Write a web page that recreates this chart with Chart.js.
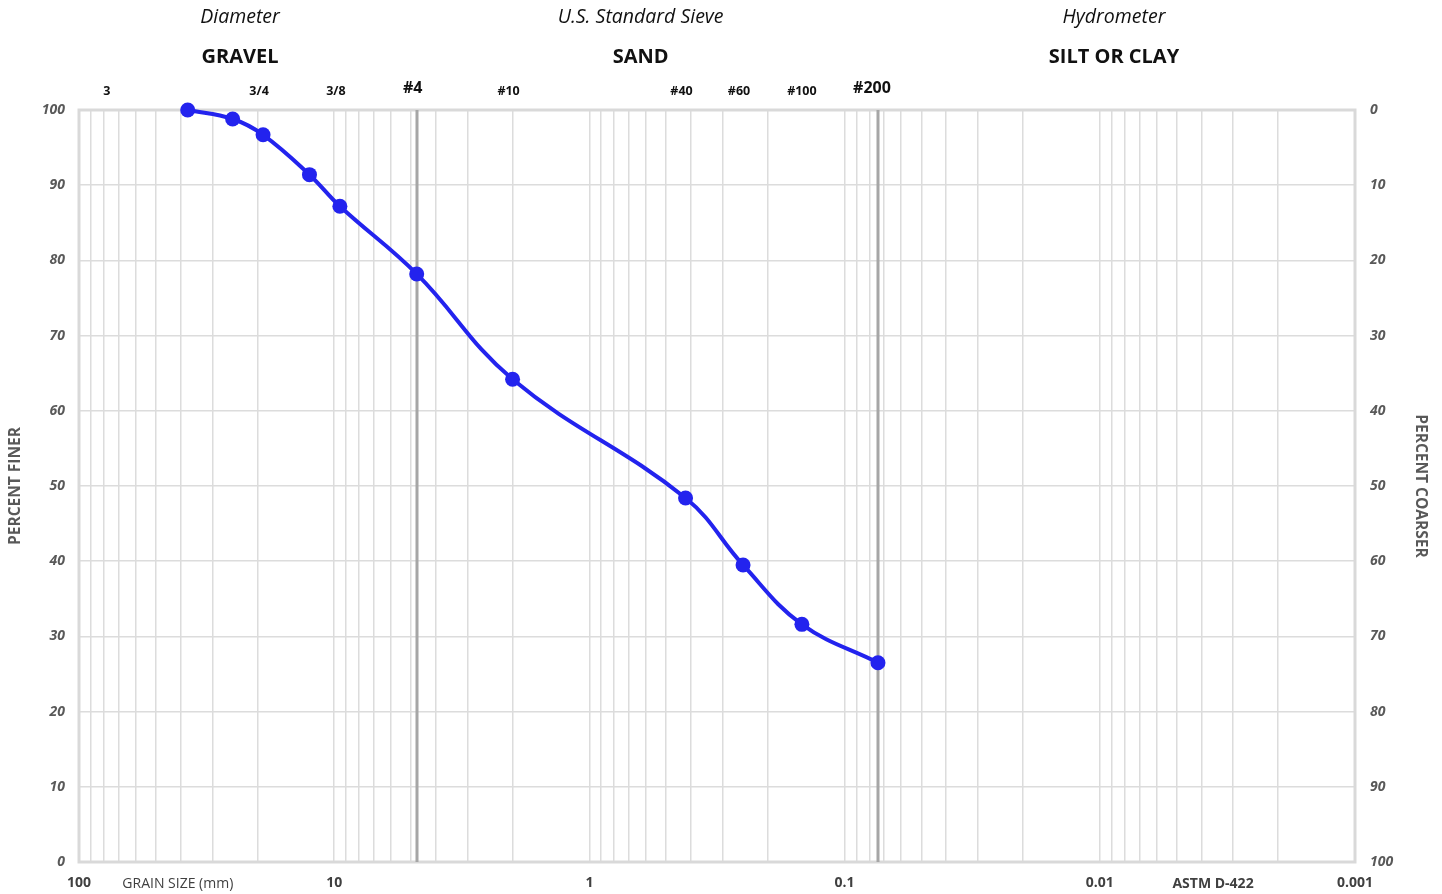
<!DOCTYPE html>
<html>
<head>
<meta charset="utf-8">
<script src="https://cdn.jsdelivr.net/npm/chart.js@4.4.0/dist/chart.umd.min.js"></script>
<style>
  html, body { margin: 0; padding: 0; background: #fff; }
  #wrap { width: 1442px; height: 894px; }
</style>
</head>
<body>
<div id="wrap"><canvas id="chartGrain"></canvas></div>
<script>
// sieve analysis (mm / % passing)
const sieveSizes = [37.5, 25, 19, 12.5, 9.5, 4.75, 2.0, 0.42, 0.25, 0.147, 0.074];
const percentFiner = [100, 98.8, 96.7, 91.4, 87.2, 78.2, 64.2, 48.4, 39.5, 31.6, 26.5];

// labels along the top
const sieveLabels = ['3', '3/4', '3/8', '#4', '#10', '#40', '#60', '#100', '#200'];
const sieveLabelSizes = [75, 19, 9.5, 4.75, 2.0, 0.42, 0.25, 0.147, 0.074];
const bigSieves = ['#4', '#200'];

const zoneMethods = ['Diameter', 'U.S. Standard Sieve', 'Hydrometer'];
const zoneTitles = ['GRAVEL', 'SAND', 'SILT OR CLAY'];
const zoneCenters = [23.4, 0.63, 0.0088];

const bottomNotes = ['GRAIN SIZE (mm)', 'ASTM D-422'];
const bottomNoteAt = [41, 0.0036];

const decadeLabels = [100, 10, 1, 0.1, 0.01, 0.001];

const FONT = '"Open Sans", "Noto Sans", sans-serif';
const LINE_BLUE = '#2323EE';

// 1..9 per decade
const gridTicks = [];
for (let e = -3; e <= 1; e++) {
  for (let s = 1; s <= 9; s++) {
    gridTicks.push(Number((s * Math.pow(10, e)).toPrecision(3)));
  }
}
gridTicks.push(100);

function isDecade(v) {
  return decadeLabels.some(d => Math.abs(d - v) / d < 1e-6);
}

const grainDecor = {
  id: 'grainDecor',
  beforeDatasetsDraw(chart) {
    const { ctx, chartArea: a } = chart;
    const xs = chart.scales.x;
    ctx.save();
    ctx.strokeStyle = '#d9d9d9';
    ctx.lineWidth = 3;
    ctx.strokeRect(a.left, a.top, a.right - a.left, a.bottom - a.top);
    ctx.strokeStyle = '#a6a6a6';
    ctx.lineWidth = 3;
    [4.75, 0.074].forEach(v => {
      const px = Math.round(xs.getPixelForValue(v));
      ctx.beginPath();
      ctx.moveTo(px, a.top);
      ctx.lineTo(px, a.bottom);
      ctx.stroke();
    });
    ctx.restore();
  },
  afterDraw(chart) {
    const { ctx } = chart;
    const xs = chart.scales.x;
    ctx.save();
    ctx.textAlign = 'center';
    ctx.textBaseline = 'middle';
    ctx.fillStyle = '#111';

    zoneMethods.forEach((t, i) => {
      ctx.font = `italic 19.5px ${FONT}`;
      ctx.fillText(t, xs.getPixelForValue(zoneCenters[i]), 17);
    });
    zoneTitles.forEach((t, i) => {
      ctx.font = `bold 20px ${FONT}`;
      ctx.fillText(t, xs.getPixelForValue(zoneCenters[i]), 57);
    });
    sieveLabels.forEach((t, i) => {
      const big = bigSieves.includes(t);
      ctx.font = big ? `bold 16px ${FONT}` : `bold 12.5px ${FONT}`;
      const shift = t === '#100' ? 0 : (t === '#200' ? -6 : -4);
      ctx.fillText(t, xs.getPixelForValue(sieveLabelSizes[i]) + shift, big ? 88 : 91);
    });

    ctx.fillStyle = '#404040';
    ctx.font = `14px ${FONT}`;
    ctx.fillText(bottomNotes[0], xs.getPixelForValue(bottomNoteAt[0]), 884);
    ctx.font = `bold 14px ${FONT}`;
    ctx.fillText(bottomNotes[1], xs.getPixelForValue(bottomNoteAt[1]), 884);
    ctx.restore();
  }
};

const ctx = document.getElementById('chartGrain').getContext('2d');
new Chart(ctx, {
  type: 'line',
  data: {
    datasets: [{
      data: sieveSizes.map((s, i) => ({ x: s, y: percentFiner[i] })),
      borderColor: LINE_BLUE,
      backgroundColor: LINE_BLUE,
      borderWidth: 4,
      pointRadius: 7.5,
      pointBorderWidth: 0,
      pointBackgroundColor: LINE_BLUE,
      tension: 0.4,
      fill: false,
      clip: false
    }]
  },
  options: {
    responsive: true,
    maintainAspectRatio: false,
    animation: false,
    layout: { padding: { top: 110, left: 0, right: 0, bottom: 0 } },
    scales: {
      x: {
        type: 'logarithmic',
        reverse: true,
        min: 0.001,
        max: 100,
        afterBuildTicks: (scale) => { scale.ticks = gridTicks.map(v => ({ value: v })); },
        afterFit: (scale) => { scale.height = 32; },
        border: { display: false },
        grid: { color: '#dcdcdc', lineWidth: 1.5, drawTicks: false },
        ticks: {
          autoSkip: false,
          maxRotation: 0,
          padding: 13,
          color: '#404040',
          font: { family: FONT, size: 14, weight: 'bold' },
          callback: (v) => isDecade(v) ? String(v) : ''
        }
      },
      y: {
        position: 'left',
        min: 0,
        max: 100,
        afterFit: (scale) => { scale.width = 79; },
        border: { display: false },
        grid: { color: '#dcdcdc', lineWidth: 1.5, drawTicks: false },
        ticks: {
          stepSize: 10,
          padding: 14,
          color: '#595959',
          font: { family: FONT, size: 14, weight: 'bold', style: 'italic' }
        },
        title: {
          display: true,
          text: 'PERCENT FINER',
          color: '#595959',
          padding: { top: 6, bottom: 0 },
          font: { family: FONT, size: 15.5, weight: 'bold' }
        }
      },
      y2: {
        position: 'right',
        min: 0,
        max: 100,
        reverse: true,
        afterFit: (scale) => { scale.width = 87; },
        border: { display: false },
        grid: { display: false, drawTicks: false },
        ticks: {
          stepSize: 10,
          padding: 15,
          color: '#595959',
          font: { family: FONT, size: 14, weight: 'bold', style: 'italic' }
        },
        title: {
          display: true,
          text: 'PERCENT COARSER',
          color: '#595959',
          padding: { top: 12, bottom: 0 },
          font: { family: FONT, size: 15.5, weight: 'bold' }
        }
      }
    },
    plugins: {
      legend: { display: false },
      tooltip: { enabled: false }
    }
  },
  plugins: [grainDecor]
});
</script>
</body>
</html>
